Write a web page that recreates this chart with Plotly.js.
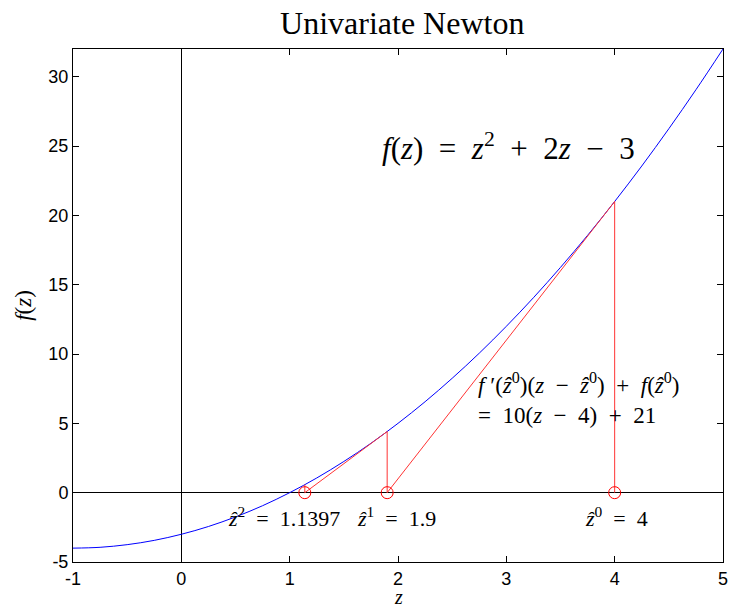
<!DOCTYPE html>
<html>
<head>
<meta charset="utf-8">
<script src="https://cdn.plot.ly/plotly-3.0.1.min.js"></script>
<style>body{margin:0;background:#fff}</style>
</head>
<body>
<div id="chart" style="width:730px;height:608px"></div>
<script>
// curve samples
var zVals = [-1, -0.75, -0.5, -0.25, 0, 0.25, 0.5, 0.75, 1, 1.25, 1.5, 1.75, 2,
             2.25, 2.5, 2.75, 3, 3.25, 3.5, 3.75, 4, 4.25, 4.5, 4.75, 5];
var fVals = [-4, -3.94, -3.75, -3.44, -3, -2.44, -1.75, -0.94, 0, 1.06, 2.25, 3.56, 5,
             6.56, 8.25, 10.06, 12, 14.06, 16.25, 18.56, 21, 23.56, 26.25, 29.06, 32];

// Newton iterates and function values at them
var zHat = [4, 1.9, 1.1397];
var fHat = [21, 4.41, 0.578];

// tick labels (plain hyphen for negatives, as in the reference)
var xTicks = [-1, 0, 1, 2, 3, 4, 5];
var xTickText = ['-1', '0', '1', '2', '3', '4', '5'];
var yTicks = [-5, 0, 5, 10, 15, 20, 25, 30];
var yTickText = ['-5', '0', '5', '10', '15', '20', '25', '30'];

var sp = '\u2002'; // math-style spacing around operators
var zh = '<i>ẑ</i>';
var iterLabels = [zh + '<sup>0</sup>' + sp + '=' + sp + '4',
                  zh + '<sup>1</sup>' + sp + '=' + sp + '1.9',
                  zh + '<sup>2</sup>' + sp + '=' + sp + '1.1397'];

// red path: up to f, then along the tangent down to the next iterate
var pathX = [], pathY = [];
for (var i = 0; i < zHat.length; i++) {
  pathX.push(zHat[i], zHat[i]);
  pathY.push(0, fHat[i]);
}

var serif = 'Liberation Serif, Times New Roman, serif';
var sans = 'Liberation Sans, Arial, sans-serif';

var data = [
  {x: zVals, y: fVals, type: 'scatter', mode: 'lines',
   line: {color: '#0000ff', width: 1, shape: 'spline'}, hoverinfo: 'skip'},
  {x: pathX, y: pathY, type: 'scatter', mode: 'lines',
   line: {color: '#ff3333', width: 1}},
  {x: zHat, y: zHat.map(function () { return 0; }), type: 'scatter', mode: 'markers',
   marker: {symbol: 'circle-open', size: 12, color: '#ff0000', line: {width: 1}}}
];

var annotations = [
  {x: 3.02, y: 25,
   text: '<i>f</i>(<i>z</i>)' + sp + '=' + sp + '<i>z</i><sup>2</sup>' + sp + '+' + sp + '2<i>z</i>' + sp + '−' + sp + '3',
   font: {family: serif, size: 31, color: '#000'}},
  {x: 2.72, y: 6.8, xanchor: 'left', align: 'left',
   text: '<i>f</i> ′(' + zh + '<sup>0</sup>)(<i>z</i>' + sp + '−' + sp + zh + '<sup>0</sup>)' + sp + '+' + sp + '<i>f</i>(' + zh + '<sup>0</sup>)' +
         '<br>=' + sp + '10(<i>z</i>' + sp + '−' + sp + '4)' + sp + '+' + sp + '21',
   font: {family: serif, size: 23, color: '#000'}}
];
var labelX = [4.02, 1.99, 0.95];
for (var k = 0; k < iterLabels.length; k++) {
  annotations.push({x: labelX[k], y: -1.73, text: iterLabels[k],
    font: {family: serif, size: 22, color: '#000'}});
}
annotations.forEach(function (a) { a.showarrow = false; a.xref = 'x'; a.yref = 'y'; });

// x axis label, placed just under the tick labels
annotations.push({text: '<i>z</i>', xref: 'paper', yref: 'paper', x: 0.5, y: -0.068,
  xanchor: 'center', yanchor: 'middle', showarrow: false, borderpad: 0,
  font: {family: serif, size: 20, color: '#000'}});

var layout = {
  width: 730, height: 608,
  margin: {l: 73, r: 7, t: 49, b: 46},
  showlegend: false,
  paper_bgcolor: '#fff', plot_bgcolor: '#fff',
  title: {text: 'Univariate Newton', font: {family: serif, size: 32, color: '#000'},
          x: 0.551, xanchor: 'center', y: 0.962, yanchor: 'middle'},
  xaxis: {range: [-1, 5], tickvals: xTicks, ticktext: xTickText, showgrid: false, zeroline: true,
          zerolinecolor: '#000', zerolinewidth: 1,
          showline: true, linecolor: '#000', linewidth: 1, mirror: 'allticks',
          ticks: 'inside', ticklen: 6, tickcolor: '#000',
          tickfont: {family: sans, size: 18, color: '#000'}},
  yaxis: {range: [-5, 32], tickvals: yTicks, ticktext: yTickText, showgrid: false, zeroline: true,
          zerolinecolor: '#000', zerolinewidth: 1,
          showline: true, linecolor: '#000', linewidth: 1, mirror: 'allticks',
          ticks: 'inside', ticklen: 6, tickcolor: '#000',
          tickfont: {family: sans, size: 18, color: '#000'},
          title: {text: '<i>f</i>(<i>z</i>)', font: {family: serif, size: 23, color: '#000'}, standoff: 10}},
  annotations: annotations
};

Plotly.newPlot('chart', data, layout, {displayModeBar: false});
</script>
</body>
</html>
